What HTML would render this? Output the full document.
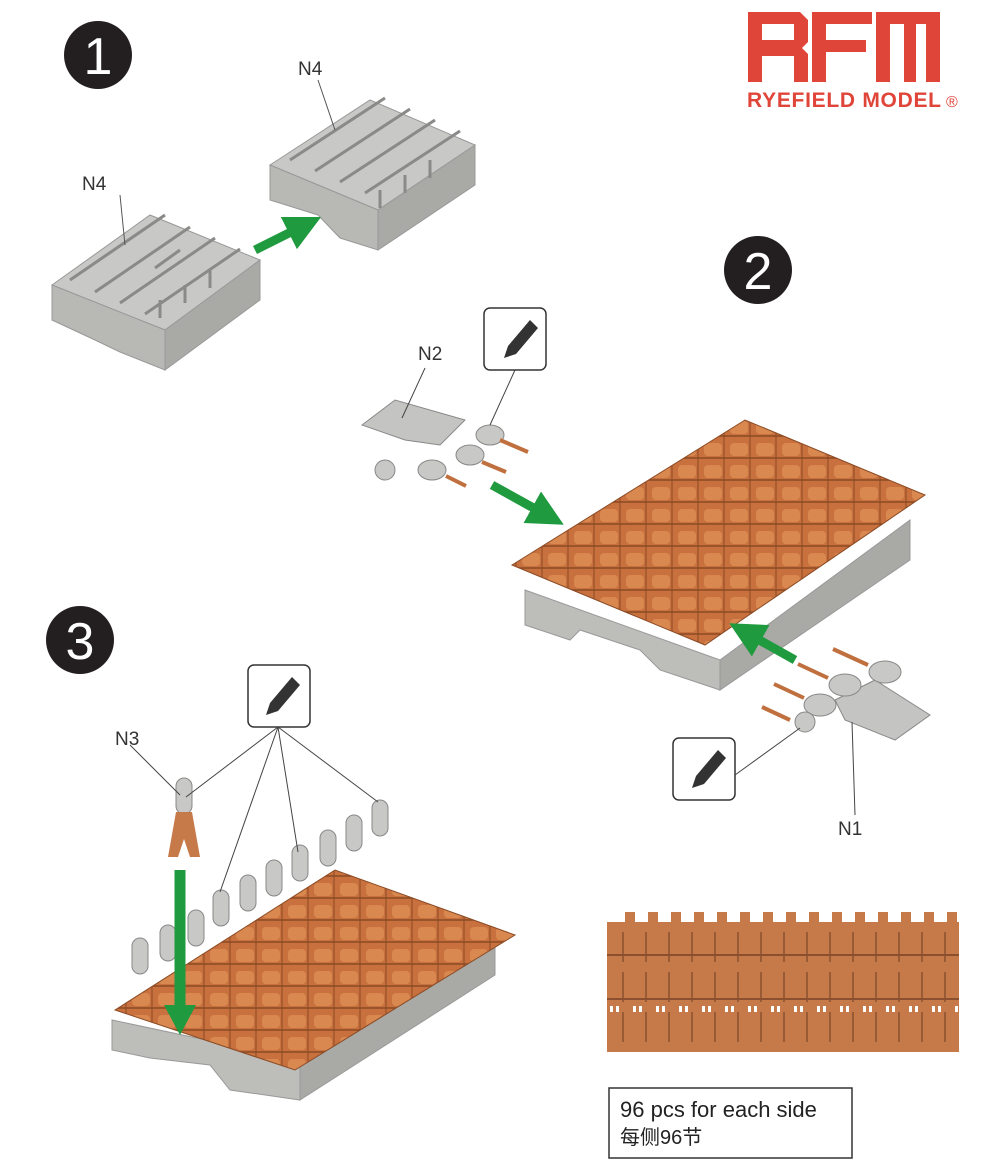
<!DOCTYPE html>
<html><head><meta charset="utf-8"><style>
body{margin:0;background:#fff}
svg{display:block}
text{font-family:"Liberation Sans","Noto Sans CJK SC",sans-serif}
</style></head><body>
<svg width="1000" height="1175" viewBox="0 0 1000 1175" xmlns="http://www.w3.org/2000/svg">
<defs>
<pattern id="trk" width="26" height="22" patternUnits="userSpaceOnUse">
<rect width="26" height="22" fill="#c8703e"/>
<rect x="2" y="3" width="18" height="13" rx="4" fill="#d98850"/>
<path d="M0 18h26" stroke="#8a4a24" stroke-width="1.5"/>
<path d="M22 0v22" stroke="#8a4a24" stroke-width="1"/>
</pattern>
<pattern id="strip" x="607" y="922" width="23" height="130" patternUnits="userSpaceOnUse">
<rect width="23" height="130" fill="#c67a4a"/>
<path d="M16 10v30M16 50v30M16 90v30" stroke="#8a5030" stroke-width="1.5"/>
<path d="M0 33h23M0 77h23" stroke="#8a5030" stroke-width="2"/>
<rect x="3" y="84" width="3" height="6" fill="#fff"/><rect x="9" y="84" width="3" height="6" fill="#fff"/>
</pattern>
<marker id="ah" markerWidth="4" markerHeight="4" refX="2" refY="2" orient="auto"><path d="M0,0 L4,2 L0,4z" fill="#1f9a3e"/></marker>
</defs>

<!-- logo -->
<g fill="#e0453a">
<path d="M748 12h52l8 8v22l-6 6 6 6v28h-14v-26h-32v26h-14zM762 24v16h32v-16z"/>
<path d="M812 12h60v12h-46v16h40v12h-40v30h-14z"/>
<path d="M876 12h64v70h-14v-58h-10v58h-12v-58h-14v58h-14z"/>
</g>
<text x="747" y="107" font-size="21" font-weight="bold" fill="#e0453a" textLength="194">RYEFIELD MODEL</text>
<text x="946" y="107" font-size="16" fill="#e0453a">®</text>

<!-- numbers -->
<circle cx="98" cy="55" r="34" fill="#231f20"/><text x="98" y="74" font-size="52" fill="#fff" text-anchor="middle">1</text>
<circle cx="758" cy="270" r="34" fill="#231f20"/><text x="758" y="289" font-size="52" fill="#fff" text-anchor="middle">2</text>
<circle cx="80" cy="640" r="34" fill="#231f20"/><text x="80" y="659" font-size="52" fill="#fff" text-anchor="middle">3</text>

<!-- step1 jigs -->
<g stroke="#999" stroke-width="1">
<polygon points="52,285 150,215 260,260 165,330" fill="#c8c8c6"/>
<polygon points="52,285 165,330 165,370 120,352 95,340 52,320" fill="#b8b8b5"/>
<polygon points="165,330 260,260 260,300 165,370" fill="#a9a9a6"/>
<polygon points="270,165 370,100 475,145 378,210" fill="#c8c8c6"/>
<polygon points="270,165 378,210 378,250 340,238 318,215 270,200" fill="#b8b8b5"/>
<polygon points="378,210 475,145 475,185 378,250" fill="#a9a9a6"/>
</g>
<g stroke="#8a8a88" stroke-width="3" fill="none">
<path d="M70 280l95-65M95 292l95-65M120 303l95-65M145 314l95-65M180 250l-25 18M160 300v18M185 285v18M210 270v18"/>
<path d="M290 160l95-62M315 171l95-62M340 182l95-62M365 193l95-62M380 190v18M405 175v18M430 160v18"/>
</g>
<line x1="120" y1="195" x2="125" y2="245" stroke="#555"/>
<text x="82" y="190" font-size="19" fill="#333">N4</text>
<line x1="318" y1="80" x2="335" y2="130" stroke="#555"/>
<text x="298" y="75" font-size="19" fill="#333">N4</text>
<line x1="255" y1="250" x2="305" y2="225" stroke="#1f9a3e" stroke-width="9" marker-end="url(#ah)"/>

<!-- step2 -->
<polygon points="525,590 720,660 720,690 660,670 640,650 580,630 570,640 525,625" fill="#bdbdba" stroke="#999"/>
<polygon points="720,660 910,520 910,560 720,690" fill="#a9a9a6" stroke="#999"/>
<polygon points="512,565 745,420 925,495 705,645" fill="url(#trk)" stroke="#8a4a24"/>
<line x1="492" y1="485" x2="548" y2="516" stroke="#1f9a3e" stroke-width="9" marker-end="url(#ah)"/>
<line x1="795" y1="660" x2="745" y2="632" stroke="#1f9a3e" stroke-width="9" marker-end="url(#ah)"/>
<polygon points="362,425 395,400 465,420 440,445 405,440" fill="#c4c4c2" stroke="#888"/>
<g fill="#c8c8c6" stroke="#888"><ellipse cx="490" cy="435" rx="14" ry="10"/><ellipse cx="470" cy="455" rx="14" ry="10"/><ellipse cx="432" cy="470" rx="14" ry="10"/><circle cx="385" cy="470" r="10"/></g>
<g stroke="#c0703e" stroke-width="4"><path d="M500 440l28 12M482 462l24 10M446 476l20 10"/></g>
<rect x="484" y="308" width="62" height="62" rx="6" fill="#fff" stroke="#333" stroke-width="1.5"/>
<path d="M530 320l8 8-22 26-12 4 4-12z" fill="#333"/>
<line x1="425" y1="368" x2="402" y2="418" stroke="#444"/><text x="418" y="360" font-size="19" fill="#333">N2</text>
<line x1="515" y1="370" x2="490" y2="425" stroke="#444"/>
<polygon points="835,700 875,680 930,715 895,740 845,720" fill="#c4c4c2" stroke="#888"/>
<g fill="#c8c8c6" stroke="#888"><ellipse cx="885" cy="672" rx="16" ry="11"/><ellipse cx="845" cy="685" rx="16" ry="11"/><ellipse cx="820" cy="705" rx="16" ry="11"/><circle cx="805" cy="722" r="10"/></g>
<g stroke="#c0703e" stroke-width="4"><path d="M868 665l-35-16M828 678l-30-14M804 698l-30-14M790 720l-28-13"/></g>
<rect x="673" y="738" width="62" height="62" rx="6" fill="#fff" stroke="#333" stroke-width="1.5"/>
<path d="M718 750l8 8-22 26-12 4 4-12z" fill="#333"/>
<line x1="735" y1="775" x2="800" y2="728" stroke="#444"/>
<line x1="852" y1="722" x2="855" y2="815" stroke="#444"/>
<text x="838" y="835" font-size="19" fill="#333">N1</text>

<!-- step3 -->
<polygon points="112,1020 300,1060 300,1100 230,1090 210,1065 150,1058 112,1050" fill="#bdbdba" stroke="#999"/>
<polygon points="300,1060 495,935 495,975 300,1100" fill="#a9a9a6" stroke="#999"/>
<polygon points="115,1010 335,870 515,935 295,1070" fill="url(#trk)" stroke="#8a4a24"/>
<g fill="#c8c8c6" stroke="#888">
<rect x="132" y="938" width="16" height="36" rx="8"/><rect x="160" y="925" width="16" height="36" rx="8"/><rect x="188" y="910" width="16" height="36" rx="8"/>
<rect x="213" y="890" width="16" height="36" rx="8"/><rect x="240" y="875" width="16" height="36" rx="8"/><rect x="266" y="860" width="16" height="36" rx="8"/>
<rect x="292" y="845" width="16" height="36" rx="8"/><rect x="320" y="830" width="16" height="36" rx="8"/><rect x="346" y="815" width="16" height="36" rx="8"/><rect x="372" y="800" width="16" height="36" rx="8"/>
<rect x="176" y="778" width="16" height="36" rx="8"/>
</g>
<path d="M176 812l-8 45h10l6-18 6 18h10l-8-45z" fill="#c67a4a"/>
<line x1="180" y1="870" x2="180" y2="1010" stroke="#1f9a3e" stroke-width="11"/>
<polygon points="164,1005 196,1005 180,1035" fill="#1f9a3e"/>
<rect x="248" y="665" width="62" height="62" rx="6" fill="#fff" stroke="#333" stroke-width="1.5"/>
<path d="M292 677l8 8-22 26-12 4 4-12z" fill="#333"/>
<g stroke="#444"><path d="M278 727l-92 70M278 727l-58 165M278 727l20 125M278 727l100 75"/></g>
<line x1="130" y1="745" x2="180" y2="795" stroke="#444"/>
<text x="115" y="745" font-size="19" fill="#333">N3</text>

<!-- strip -->
<rect x="607" y="922" width="352" height="130" fill="url(#strip)"/>
<g fill="#c67a4a"><rect x="625" y="912" width="10" height="10"/><rect x="648" y="912" width="10" height="10"/><rect x="671" y="912" width="10" height="10"/><rect x="694" y="912" width="10" height="10"/><rect x="717" y="912" width="10" height="10"/><rect x="740" y="912" width="10" height="10"/><rect x="763" y="912" width="10" height="10"/><rect x="786" y="912" width="10" height="10"/><rect x="809" y="912" width="10" height="10"/><rect x="832" y="912" width="10" height="10"/><rect x="855" y="912" width="10" height="10"/><rect x="878" y="912" width="10" height="10"/><rect x="901" y="912" width="10" height="10"/><rect x="924" y="912" width="10" height="10"/><rect x="947" y="912" width="10" height="10"/></g>

<rect x="609" y="1088" width="243" height="70" fill="#fff" stroke="#333" stroke-width="1.5"/>
<text x="620" y="1117" font-size="22" fill="#222">96 pcs for each side</text>
<text x="620" y="1144" font-size="20" fill="#222">每侧96节</text>
</svg>
</body></html>
